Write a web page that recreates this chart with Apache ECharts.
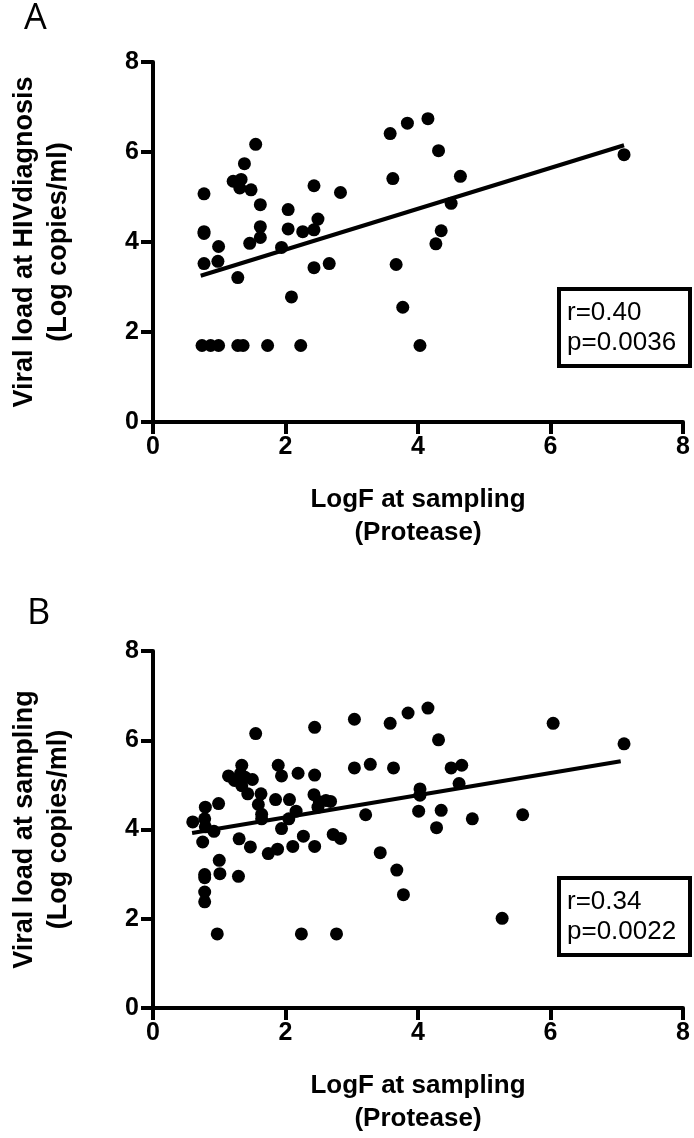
<!DOCTYPE html>
<html>
<head>
<meta charset="utf-8">
<script src="https://cdn.jsdelivr.net/npm/echarts@6/dist/echarts.min.js"></script>
<style>
html,body{margin:0;padding:0;background:#fff;}
#chart{width:694px;height:1138px;}
</style>
</head>
<body>
<div id="chart"></div>
<script>
// Panel A: LogF at sampling (Protease) vs viral load at HIV diagnosis
var pointsA = [
  [0.77,5.07],[0.77,4.23],[0.77,4.19],[0.99,3.90],[0.77,3.52],[0.98,3.57],[1.28,3.21],
  [1.21,5.35],[1.33,5.39],[1.31,5.20],[1.38,5.74],[1.55,6.17],[1.48,5.16],[1.62,4.83],
  [1.62,4.34],[1.62,4.10],[1.46,3.97],[1.94,3.88],[2.04,4.72],[2.04,4.29],[2.09,2.78],
  [2.26,4.23],[2.43,4.27],[2.49,4.51],[2.43,5.25],[2.43,3.43],[2.66,3.52],[2.83,5.10],
  [3.58,6.41],[3.84,6.64],[4.15,6.74],[3.62,5.41],[3.67,3.50],[3.77,2.55],[4.31,6.03],
  [4.64,5.46],[4.50,4.86],[4.35,4.25],[4.27,3.96],[7.11,5.94],
  [0.74,1.70],[0.87,1.70],[0.99,1.70],[1.28,1.70],[1.36,1.70],[1.73,1.70],[2.23,1.70],[4.03,1.70]
];
var fitA = [[0.72,3.25],[7.11,6.15]];
var statsA = ['r=0.40','p=0.0036'];

// Panel B: LogF at sampling (Protease) vs viral load at sampling
var pointsB = [
  [0.60,4.17],[0.79,4.50],[0.78,4.24],[0.79,4.06],[0.92,3.96],[0.75,3.72],[0.99,4.58],
  [1.00,3.31],[1.01,3.01],[0.78,2.99],[0.78,2.92],[0.78,2.60],[0.78,2.38],[0.97,1.66],
  [1.29,2.95],[1.30,3.79],[1.47,3.61],[1.14,5.20],[1.23,5.10],[1.34,5.44],[1.32,5.25],
  [1.39,5.17],[1.50,5.12],[1.34,4.98],[1.43,4.80],[1.55,6.15],[1.63,4.80],[1.59,4.56],
  [1.64,4.34],[1.64,4.24],[1.74,3.46],[1.88,3.56],[1.85,4.67],[1.89,5.44],[1.94,5.20],
  [1.94,4.02],[2.06,4.67],[2.05,4.24],[2.11,3.62],[2.16,4.41],[2.19,5.26],[2.27,3.85],
  [2.24,1.66],[2.44,6.29],[2.44,5.22],[2.43,4.78],[2.51,4.62],[2.49,4.50],[2.61,4.65],
  [2.68,4.63],[2.44,3.62],[2.72,3.89],[2.83,3.80],[2.77,1.66],[3.04,6.47],[3.04,5.38],
  [3.28,5.46],[3.21,4.33],[3.43,3.48],[3.58,6.38],[3.63,5.38],[3.68,3.09],[3.78,2.54],
  [3.85,6.61],[4.15,6.72],[4.31,6.01],[4.03,4.91],[4.03,4.77],[4.01,4.41],[4.28,4.04],
  [4.50,5.38],[4.66,5.44],[4.62,5.03],[4.35,4.43],[4.82,4.24],[5.58,4.33],[6.04,6.38],
  [7.11,5.92],[5.27,2.01]
];
var fitB = [[0.59,3.92],[7.06,5.53]];
var statsB = ['r=0.34','p=0.0022'];

var panelLabels = ['A','B'];
var xTitle = 'LogF at sampling\n(Protease)';
var yTitles = ['Viral load at HIVdiagnosis\n(Log copies/ml)', 'Viral load at sampling\n(Log copies/ml)'];

var FONT = '"Liberation Sans", Arial, sans-serif';

function xAxisCfg(gi){
  return {
    gridIndex: gi, type:'value', min:0, max:8, interval:2,
    name: xTitle, nameLocation:'middle', nameGap:61,
    nameTextStyle:{fontFamily:FONT, fontSize:26, fontWeight:'bold', color:'#000', lineHeight:33},
    axisLine:{show:true, onZero:false, lineStyle:{color:'#000', width:4}},
    axisTick:{show:true, inside:false, length:12, lineStyle:{color:'#000', width:4}},
    axisLabel:{fontFamily:FONT, fontSize:25, fontWeight:'bold', color:'#000', margin:13},
    splitLine:{show:false}
  };
}
function yAxisCfg(gi){
  return {
    gridIndex: gi, type:'value', min:0, max:8, interval:2,
    name: yTitles[gi], nameLocation:'middle', nameGap:77,
    nameTextStyle:{fontFamily:FONT, fontSize:27, fontWeight:'bold', color:'#000', lineHeight:34},
    axisLine:{show:true, onZero:false, lineStyle:{color:'#000', width:4}},
    axisTick:{show:true, inside:false, length:12, lineStyle:{color:'#000', width:4}},
    axisLabel:{fontFamily:FONT, fontSize:25, fontWeight:'bold', color:'#000', margin:14},
    splitLine:{show:false}
  };
}
function scatter(gi, data){
  return {type:'scatter', xAxisIndex:gi, yAxisIndex:gi, data:data, symbol:'circle', symbolSize:13,
    itemStyle:{color:'#000', opacity:1}, silent:true, z:3};
}
function fitLine(gi, data){
  return {type:'line', xAxisIndex:gi, yAxisIndex:gi, data:data, showSymbol:false, symbol:'none',
    lineStyle:{color:'#000', width:4}, silent:true, z:4};
}
function statBox(top, lines){
  return [
    {type:'rect', shape:{x:559, y:top, width:131, height:77},
      style:{fill:'#fff', stroke:'#000', lineWidth:4}, z:10},
    {type:'text', x:567, y:top+24, style:{text:lines[0], font:'26px '+FONT, fill:'#000', verticalAlign:'middle'}, z:11},
    {type:'text', x:567, y:top+54, style:{text:lines[1], font:'26px '+FONT, fill:'#000', verticalAlign:'middle'}, z:11}
  ];
}

var chart = echarts.init(document.getElementById('chart'), null, {renderer:'canvas'});
chart.setOption({
  animation:false,
  backgroundColor:'#fff',
  grid:[
    {left:146, top:62, width:537, height:360},
    {left:146, top:651, width:537, height:357}
  ],
  xAxis:[xAxisCfg(0), xAxisCfg(1)],
  yAxis:[yAxisCfg(0), yAxisCfg(1)],
  series:[scatter(0, pointsA), fitLine(0, fitA), scatter(1, pointsB), fitLine(1, fitB)],
  graphic:[
    {type:'text', x:24, y:19, style:{text:panelLabels[0], font:'normal 36px "Open Sans", sans-serif', fill:'#000', verticalAlign:'middle'}},
    {type:'text', x:27, y:614, style:{text:panelLabels[1], font:'normal 36px "Open Sans", sans-serif', fill:'#000', verticalAlign:'middle'}}
  ].concat(statBox(289, statsA)).concat(statBox(878, statsB))
});
</script>
</body>
</html>
